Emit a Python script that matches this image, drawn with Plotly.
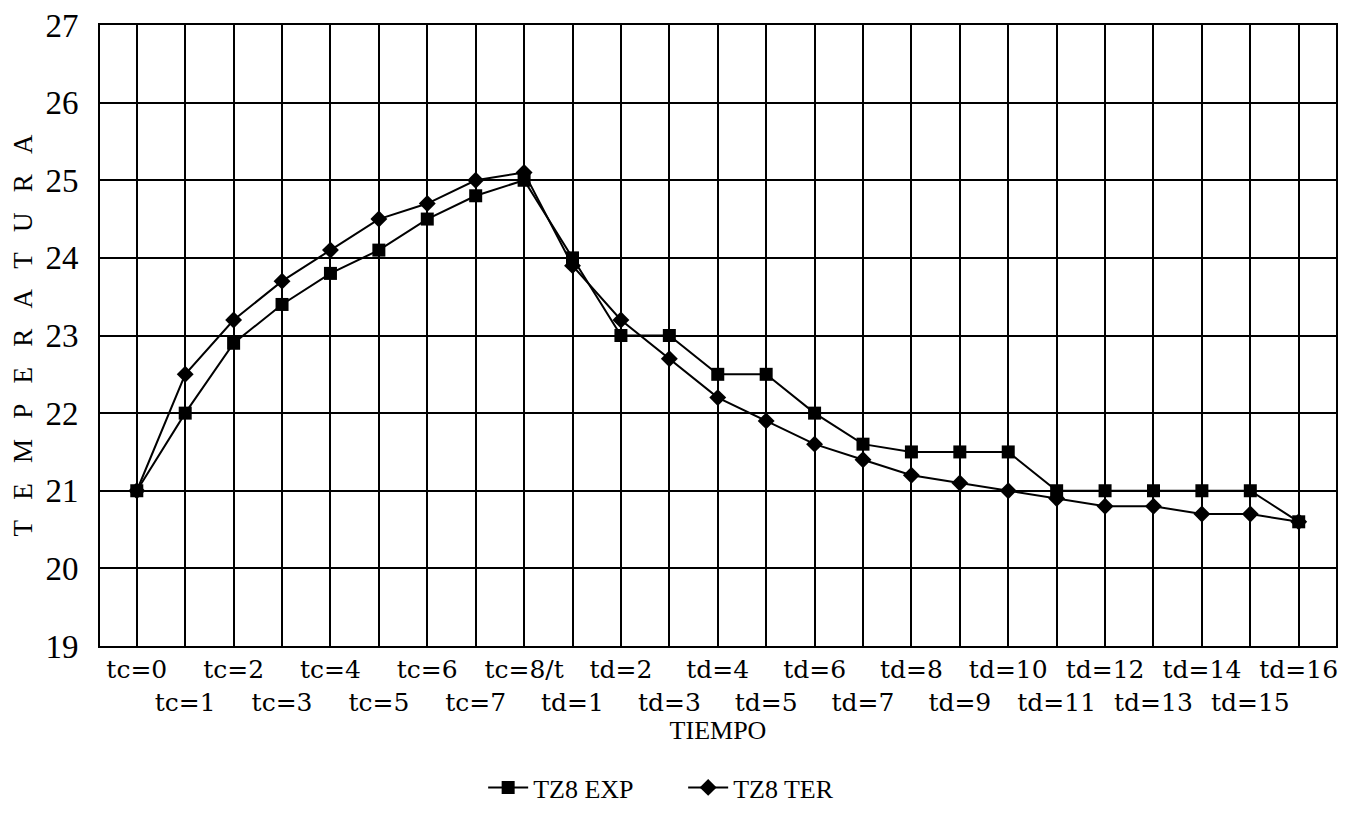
import plotly.graph_objects as go

categories = ["tc=0", "tc=1", "tc=2", "tc=3", "tc=4", "tc=5", "tc=6", "tc=7", "tc=8/t",
              "td=1", "td=2", "td=3", "td=4", "td=5", "td=6", "td=7", "td=8",
              "td=9", "td=10", "td=11", "td=12", "td=13", "td=14", "td=15", "td=16"]

tz8_exp = [21.0, 22.0, 22.9, 23.4, 23.8, 24.1, 24.5, 24.8, 25.0,
           24.0, 23.0, 23.0, 22.5, 22.5, 22.0, 21.6, 21.5,
           21.5, 21.5, 21.0, 21.0, 21.0, 21.0, 21.0, 20.6]

tz8_ter = [21.0, 22.5, 23.2, 23.7, 24.1, 24.5, 24.7, 25.0, 25.1,
           23.9, 23.2, 22.7, 22.2, 21.9, 21.6, 21.4, 21.2,
           21.1, 21.0, 20.9, 20.8, 20.8, 20.7, 20.7, 20.6]

y_ticks = [19, 20, 21, 22, 23, 24, 25, 26, 27]

# alternate tick labels on two rows
tick_text = [c if i % 2 == 0 else "<br>" + c for i, c in enumerate(categories)]

FONT = "Liberation Serif, Times New Roman, serif"
XFONT = "DejaVu Serif, serif"
NB = "\u00a0" * 3

fig = go.Figure()
fig.add_trace(go.Scatter(
    x=categories, y=tz8_exp, mode="lines+markers", name="TZ8 EXP",
    line=dict(color="black", width=2),
    marker=dict(symbol="square", size=13, color="black"),
))
fig.add_trace(go.Scatter(
    x=categories, y=tz8_ter, mode="lines+markers", name="TZ8 TER",
    line=dict(color="black", width=2),
    marker=dict(symbol="diamond", size=13, color="black"),
))

fig.update_layout(
    width=1351, height=817,
    margin=dict(l=92, r=23, t=17, b=179, autoexpand=False),
    paper_bgcolor="white", plot_bgcolor="white",
    font=dict(family=FONT, color="black"),
    showlegend=True,
    legend=dict(orientation="h", x=0.31, xanchor="left", y=-0.19, yanchor="top",
                font=dict(size=26, family=FONT), itemwidth=40, entrywidth=145,
                bgcolor="rgba(0,0,0,0)"),
    xaxis=dict(
        type="category", categoryorder="array", categoryarray=categories,
        range=[-0.76, 24.77], automargin=False,
        tickmode="array", tickvals=categories, ticktext=tick_text,
        tickangle=0,
        tickfont=dict(size=25, family=XFONT),
        showgrid=True, gridcolor="black", gridwidth=1.5,
        showline=True, linecolor="black", linewidth=2, mirror=True,
        ticks="", zeroline=False,
        title=dict(text="TIEMPO", font=dict(size=26, family=FONT), standoff=0),
    ),
    yaxis=dict(
        range=[19, 27], tickmode="array", tickvals=y_ticks, automargin=False,
        tickfont=dict(size=33, family=FONT), ticklabeloverflow="allow",
        showgrid=True, gridcolor="black", gridwidth=2,
        showline=True, linecolor="black", linewidth=2, mirror=True,
        ticks="", zeroline=False, ticklabelstandoff=13,
        title=dict(text=NB.join("TEMPERATURA"), font=dict(size=27, family=FONT), standoff=10),
    ),
)

fig.write_html("out.html")
